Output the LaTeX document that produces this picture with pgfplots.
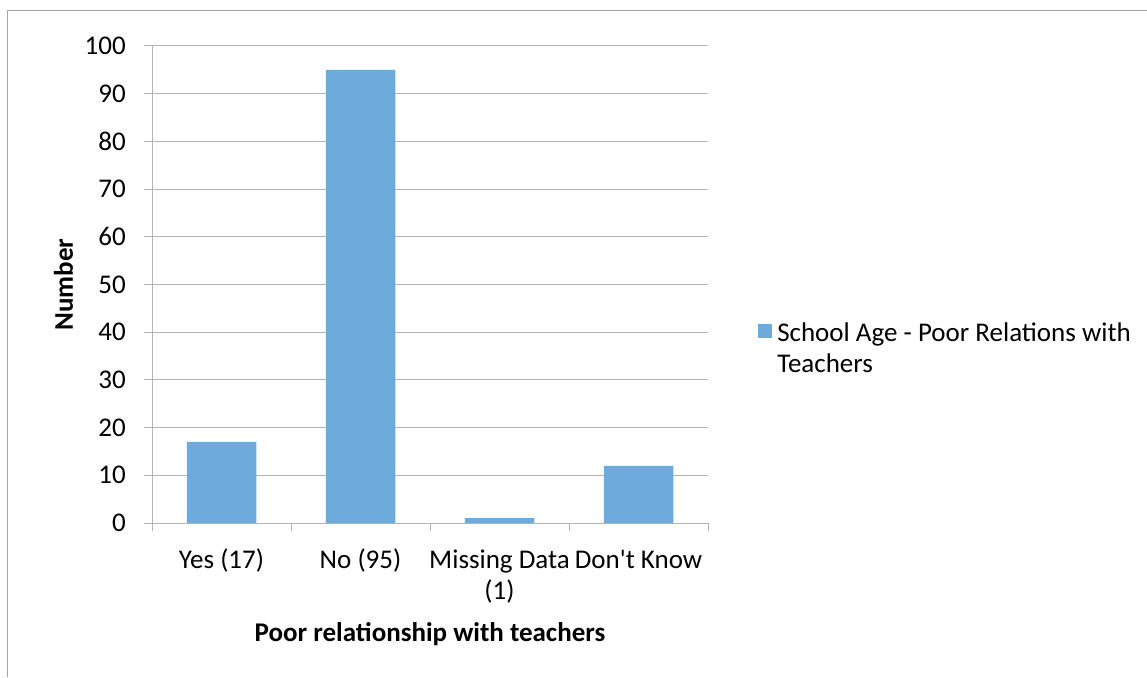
\documentclass[border=0pt]{standalone}
\usepackage{fontspec}
\setmainfont{Carlito}
\usepackage{pgfplots}
\pgfplotsset{compat=1.18}
\definecolor{barblue}{RGB}{110,171,221}
\definecolor{gridgray}{RGB}{180,180,180}
\definecolor{framegray}{RGB}{165,165,165}
\begin{document}
\begin{tikzpicture}
\fontsize{27}{31}\selectfont
\path[use as bounding box] (0,0) rectangle (1147pt,677pt);
\draw[framegray, line width=1pt] (7pt,0) -- (7pt,666pt) -- (1147pt,666pt);
\begin{axis}[
  at={(152pt,154pt)}, anchor=south west,
  scale only axis, width=556pt, height=477pt,
  xmin=-0.5, xmax=3.5, ymin=0, ymax=100,
  axis lines*=left,
  axis line style={gridgray, line width=1pt},
  xtick={0,1,2,3},
  xticklabels={\strut Yes (17), \strut No (95), \strut Missing Data\\(1), \strut Don\textquotesingle t Know},
  minor xtick={-0.5,0.5,1.5,2.5,3.5},
  every major x tick/.style={draw=none},
  every minor x tick/.style={gridgray, line width=1pt},
  minor tick length=8pt,
  ytick={0,10,...,100},
  major tick length=8pt,
  tick align=outside,
  every major y tick/.style={gridgray, line width=1pt},
  ymajorgrids,
  grid style={gridgray, line width=1pt},
  /pgf/number format/assume math mode=true,
  tick label style={font=\fontsize{27}{31}\selectfont},
  yticklabel style={anchor=east, inner sep=0pt, xshift=-18pt},
  xticklabel style={anchor=north, inner sep=0pt, align=center, yshift=-16pt},
  every axis x label/.style={at={(axis description cs:0.5,0)}, anchor=base, yshift=-118pt, font=\fontsize{27}{31}\selectfont\bfseries},
  every axis y label/.style={at={(axis description cs:-0.1421,0.5)}, rotate=90, anchor=base, font=\fontsize{27}{31}\selectfont\bfseries},
  xlabel={Poor relationship with teachers},
  ylabel={Number},
  legend style={at={(axis description cs:1.09,0.364)}, anchor=west, draw=none, fill=none,
    font=\fontsize{27}{31}\selectfont, cells={align=left, anchor=west},
    inner sep=0pt, legend image code/.code={\fill[barblue] (0pt,11pt) rectangle (14pt,25pt); \path (17pt,11pt);}},
]
\addplot[ybar, bar width=0.5, fill=barblue, draw=none] coordinates {(0,17) (1,95) (2,1) (3,12)};
\addlegendentry{School Age - Poor Relations with\\Teachers}
\end{axis}
\end{tikzpicture}
\end{document}
